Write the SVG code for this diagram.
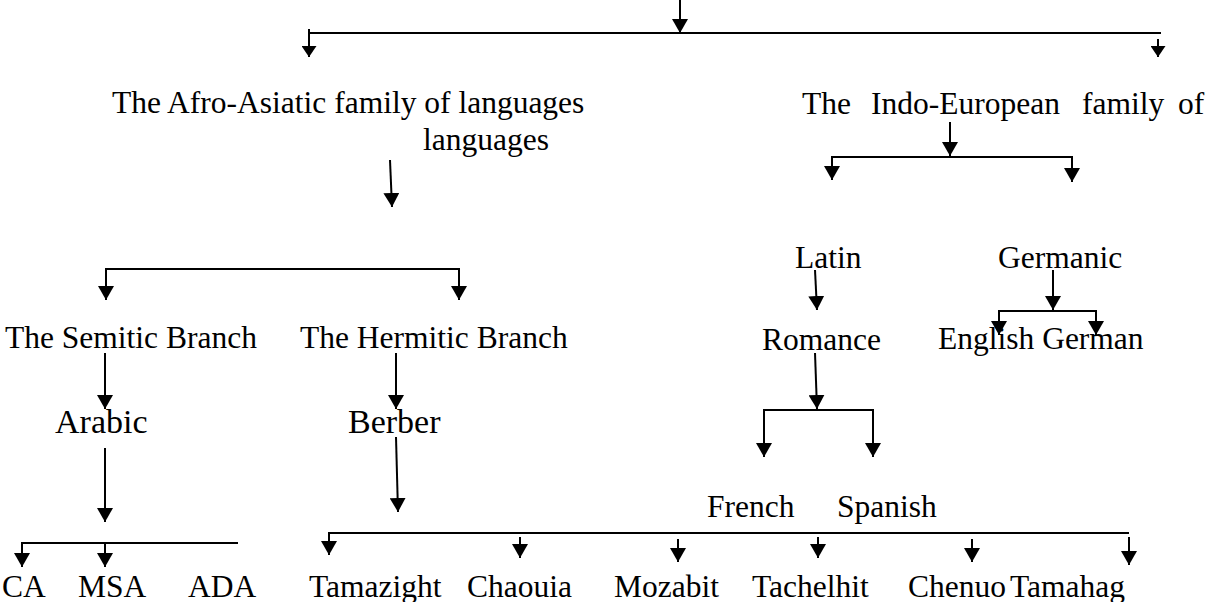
<svg xmlns="http://www.w3.org/2000/svg" width="1212" height="602" viewBox="0 0 1212 602">
<style>
text{font-family:"Liberation Serif","Times New Roman",serif;font-size:31.5px;fill:#000}
.big{font-size:34px}
.c path{stroke:#000;stroke-width:2;fill:none}
.c .a{marker-end:url(#ah)}
.c .s{marker-end:url(#ahs)}
</style>
<defs>
<marker id="ah" markerUnits="userSpaceOnUse" markerWidth="14" markerHeight="16" refX="14" refY="8" orient="auto" viewBox="0 0 14 16"><path d="M0,0 L14,8 L0,16 z" fill="#000"/></marker>
<marker id="ahs" markerUnits="userSpaceOnUse" markerWidth="11" markerHeight="15" refX="11" refY="7.5" orient="auto" viewBox="0 0 11 15"><path d="M0,0 L11,7.5 L0,15 z" fill="#000"/></marker>
</defs>
<g id="connectors" class="c">
<path class="a" d="M680,0 V33"/>
<path d="M309,33 H1161"/>
<path class="s" d="M309,29 V57"/>
<path class="s" d="M1158,39 V57"/>
<path class="a" d="M390,160 L392,207"/>
<path d="M106,269 H459"/>
<path class="a" d="M106,268 V300"/>
<path class="a" d="M459,268 V300"/>
<path class="a" d="M105,353 V409"/>
<path class="a" d="M396,353 V409"/>
<path class="a" d="M105,448 V522"/>
<path d="M22,543 H238"/>
<path class="a" d="M22,542 V567"/>
<path class="a" d="M105,542 V567"/>
<path class="a" d="M396,437 L398,512"/>
<path d="M329,533 H1129"/>
<path class="a" d="M329,532 V555"/>
<path class="a" d="M520,537 V558"/>
<path class="a" d="M678,539 V562"/>
<path class="a" d="M818,537 V558"/>
<path class="a" d="M972,539 V562"/>
<path class="a" d="M1129,537 V565"/>
<path class="a" d="M950,122 V156"/>
<path d="M832,157 H1072"/>
<path class="a" d="M832,156 V180"/>
<path class="a" d="M1072,156 V182"/>
<path class="a" d="M815,270 L817,310"/>
<path class="a" d="M1053,270 V310"/>
<path d="M999,311 H1096"/>
<path class="a" d="M999,310 V335"/>
<path class="a" d="M1096,310 V335"/>
<path class="a" d="M815,353 L817,409"/>
<path d="M764,410 H873"/>
<path class="a" d="M764,409 V457"/>
<path class="a" d="M873,409 V457"/>
</g>
<g id="afro-asiatic"><text x="112" y="113">The Afro-Asiatic family of languages</text><text x="423" y="150">languages</text></g>
<g id="indo-european"><text y="114"><tspan x="802">The</tspan><tspan x="871">Indo-European</tspan><tspan x="1082">family</tspan><tspan x="1178">of</tspan></text></g>
<g id="semitic"><text x="5" y="348">The Semitic Branch</text></g>
<g id="hermitic"><text x="300" y="348">The Hermitic Branch</text></g>
<g id="arabic"><text class="big" x="55" y="433">Arabic</text></g>
<g id="berber"><text class="big" x="348" y="433">Berber</text></g>
<g id="latin"><text x="795" y="268">Latin</text></g>
<g id="germanic"><text x="998" y="268">Germanic</text></g>
<g id="romance"><text x="762" y="350">Romance</text></g>
<g id="english-german"><text x="938" y="349">English German</text></g>
<g id="french"><text x="707" y="517">French</text></g>
<g id="spanish"><text x="837" y="517">Spanish</text></g>
<g id="ca"><text x="2" y="597">CA</text></g>
<g id="msa"><text x="78" y="597">MSA</text></g>
<g id="ada"><text x="188" y="597">ADA</text></g>
<g id="tamazight"><text x="309" y="597">Tamazight</text></g>
<g id="chaouia"><text x="467" y="597">Chaouia</text></g>
<g id="mozabit"><text x="614" y="597">Mozabit</text></g>
<g id="tachelhit"><text x="752" y="597">Tachelhit</text></g>
<g id="chenuo"><text x="908" y="597">Chenuo</text></g>
<g id="tamahag"><text x="1010" y="597">Tamahag</text></g>
</svg>
